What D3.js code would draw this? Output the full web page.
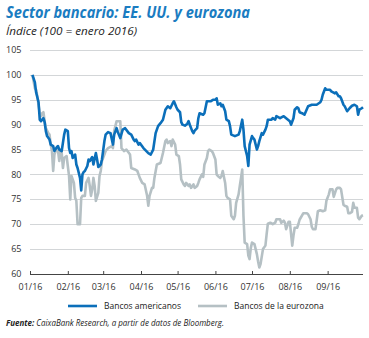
<!DOCTYPE html>
<html>
<head>
<meta charset="utf-8">
<script src="https://cdn.jsdelivr.net/npm/d3@7/dist/d3.min.js"></script>
<style>
  html, body { margin: 0; padding: 0; background: #fff; }
  svg { display: block; }
  text { font-family: "Open Sans", "Noto Sans", sans-serif; }
</style>
</head>
<body>
<svg id="chart" width="369" height="338"></svg>
<script>
// Bank sector indices, 100 = January 2016
const usDates = ["01-03","01-05","01-06","01-08","01-09","01-10","01-12","01-13","01-14","01-15","01-17","01-18","01-20","01-21","01-23","01-24","01-25","01-27","01-29","01-30",
  "02-01","02-02","02-03","02-04","02-05","02-07","02-08","02-09","02-11","02-12","02-13","02-14","02-15","02-17","02-18","02-19","02-21","02-22","02-24","02-25","02-26","02-28","02-29",
  "03-02","03-03","03-05","03-07","03-09","03-10","03-12","03-13","03-15","03-17","03-19","03-22","03-24","03-26","03-27","03-28","03-30","03-31",
  "04-03","04-07","04-09","04-11","04-13","04-15","04-17","04-19","04-21","04-23","04-25","04-27","04-28","04-30",
  "05-01","05-03","05-04","05-05","05-07","05-09","05-10","05-11","05-13","05-14","05-15","05-17","05-18","05-19","05-22","05-23","05-25","05-28","05-30",
  "06-01","06-02","06-03","06-05","06-06","06-07","06-09","06-10","06-12","06-13","06-14","06-17","06-20","06-21","06-23","06-24","06-25","06-27","06-28","06-29",
  "07-01","07-02","07-03","07-05","07-06","07-07","07-09","07-10","07-12","07-13","07-14","07-17","07-18","07-20","07-21","07-24","07-27","07-28","07-29",
  "08-01","08-02","08-04","08-05","08-07","08-08","08-09","08-11","08-13","08-16","08-19","08-23","08-26","08-27","08-28","08-30","08-31",
  "09-03","09-04","09-07","09-08","09-10","09-11","09-12","09-14","09-15","09-17","09-19","09-21","09-23","09-25","09-26","09-27","09-29","09-30"];
const usValues = [100,98.5,96.5,94.5,91,90.7,91.3,90.5,88.7,87.7,87,86,85.7,84.7,85.5,85.7,85,84.7,88,89,
  88.7,85.3,84.3,84.7,83.3,84,82,81.3,79.3,76.8,80,80.5,80.7,81.7,83,82.7,83.5,82,84.3,83,81.5,82,83,
  86.7,88,88.5,88.3,86,88,89.3,88.5,87.3,89,89.3,88.3,88,87,86.7,87,86,86.3,
  85.3,84.3,84,85,88.3,89.7,90.3,91,93,93.7,93.3,94.3,94.7,93.5,
  93,92.5,90.5,90,89.8,90.2,90.7,90,88.7,88.3,88.8,89.3,91.3,92.3,92,92.3,94.7,94.7,95,
  95,95.3,94,94.3,93.7,94,92.7,91,90.7,89.7,88,87.7,88,88.7,91,89,85.7,83.7,81.7,86,
  87.7,87.3,87,85,85.7,86.7,88.3,88,89,89.7,91,91,91.3,91,91.7,91.3,91.7,91.5,91.3,
  90.7,90,91.3,93,93.5,93.3,92.5,92.3,92,93.7,94,94,94.5,95,96,97.3,97,
  97,96.7,96.3,96.5,95.7,95.7,95.3,94,93.7,92.7,93.3,93.8,94,93.7,92,93,93.3,93.5];

const euDates = ["01-03","01-05","01-06","01-07","01-08","01-09","01-10","01-11","01-12","01-13","01-14","01-16","01-17","01-18","01-19","01-20","01-21","01-23","01-24","01-25","01-26","01-27","01-28","01-29","01-31",
  "02-01","02-02","02-03","02-04","02-05","02-06","02-07","02-08","02-09","02-11","02-12","02-13","02-15","02-16","02-18","02-19","02-20","02-21","02-22","02-23","02-24","02-26","02-27","02-28","02-29",
  "03-02","03-03","03-05","03-08","03-09","03-10","03-12","03-13","03-15","03-16","03-18","03-20","03-23","03-24","03-27","03-29","03-31",
  "04-02","04-04","04-06","04-07","04-08","04-10","04-11","04-12","04-14","04-17","04-18","04-19","04-21","04-22","04-23","04-25","04-26","04-27","04-29","04-30",
  "05-02","05-03","05-04","05-06","05-07","05-08","05-10","05-11","05-12","05-14","05-15","05-17","05-18","05-19","05-21","05-22","05-23","05-25","05-26","05-27","05-29","05-30",
  "06-01","06-02","06-03","06-05","06-06","06-07","06-09","06-10","06-11","06-13","06-14","06-16","06-17","06-18","06-20","06-21","06-22","06-23","06-24","06-25","06-27","06-28","06-29","06-30",
  "07-01","07-03","07-05","07-06","07-07","07-08","07-10","07-12","07-13","07-14","07-16","07-18","07-20","07-21","07-24","07-25","07-27","07-28","07-29","07-31",
  "08-01","08-03","08-04","08-05","08-07","08-08","08-09","08-12","08-15","08-16","08-18","08-19","08-20","08-22","08-23","08-24","08-26","08-28","08-30","08-31",
  "09-02","09-03","09-05","09-06","09-08","09-09","09-11","09-12","09-14","09-15","09-17","09-18","09-19","09-21","09-22","09-23","09-25","09-26","09-27","09-29","09-30"];
const euValues = [100,97.3,97,95.7,94,92.3,91.7,92.3,92.5,90.7,89.3,88.3,88,86,84.7,80.7,84,85.3,84.7,82.7,85,84.3,81.3,83.3,83.7,
  81.7,79.7,75,79.7,79,78.3,75.3,74.7,70,70,75.3,75.7,75.7,78.3,79.3,77.7,75.7,77,79.3,77.7,74.7,76.3,79.7,80.7,82.7,
  84,84.7,85.3,85.7,85.3,88.7,90.7,90.7,90.7,85.3,84.7,85,84,81.3,81,80.7,79.3,
  78.3,78,75.7,73.7,75.7,77.3,77.3,79.3,82,82.3,83.3,84.3,86.7,87,86.3,86.7,85.7,87,86,84,
  83.7,82,79,78,77.7,78.3,77.7,78,77.3,78,77.3,77.7,78.3,79,80,79.5,82,83.3,84.7,85,84.7,84.3,
  83,80,79.7,79.3,79.7,80.7,78.3,75.7,75.3,75,71.7,71,71.7,74.3,76,77.7,79.3,81,71.7,66.3,66,63.7,63,65.2,
  66.3,66,64,62.5,61.3,62,65,65.7,68,70.1,70.3,70,70.3,71,71,70.3,70.7,70.3,69,70.5,
  70.5,65.7,67.7,69.3,69.3,70,70.9,72.2,72.2,72,71,69.5,69,69,70.7,72.6,72.8,72.6,72.8,74.7,
  76,77,77,75.5,77,77.3,77.3,77,73.9,73.7,73.5,72.2,72.2,72.5,74.3,73.3,73.3,71.3,71,71.7,71.8];

const yTicks = [60, 65, 70, 75, 80, 85, 90, 95, 100, 105];
const monthTicks = ["01/16","02/16","03/16","04/16","05/16","06/16","07/16","08/16","09/16"];
const seriesNames = ["Bancos americanos", "Bancos de la eurozona"];
const seriesColors = ["#0b6fba", "#b5c0c4"];

const parse = d3.timeParse("%Y-%m-%d");
const toSeries = (dates, values) => dates.map((d, i) => ({ date: parse("2016-" + d), value: values[i] }));
const series = [toSeries(usDates, usValues), toSeries(euDates, euValues)];

const svg = d3.select("#chart");
const plotLeft = 30, plotRight = 363, plotTop = 50, plotBottom = 274;

const x = d3.scaleTime()
  .domain([parse("2016-01-01"), parse("2016-09-30")])
  .range([plotLeft, plotRight]);
const y = d3.scaleLinear().domain([60, 105]).range([plotBottom, plotTop]);

// Title block
svg.append("text")
  .attr("x", 6).attr("y", 18)
  .attr("font-size", 15.5).attr("font-weight", "bold").attr("font-style", "italic")
  .attr("fill", "#1a7cc1")
  .attr("textLength", 244).attr("lengthAdjust", "spacingAndGlyphs")
  .text("Sector bancario: EE. UU. y eurozona");
svg.append("text")
  .attr("x", 6).attr("y", 35)
  .attr("font-size", 11).attr("font-style", "italic")
  .attr("fill", "#222")
  .attr("textLength", 131).attr("lengthAdjust", "spacingAndGlyphs")
  .text("Índice (100 = enero 2016)");

// Horizontal grid
svg.append("g")
  .selectAll("line")
  .data(yTicks.filter(t => t > 60))
  .join("line")
  .attr("x1", plotLeft).attr("x2", plotRight)
  .attr("y1", d => Math.round(y(d)) + 0.5).attr("y2", d => Math.round(y(d)) + 0.5)
  .attr("stroke", "#d3d6d8").attr("stroke-width", 1);

// Y axis labels, right-aligned next to the grid
svg.append("g")
  .selectAll("text")
  .data(yTicks)
  .join("text")
  .attr("x", 21.5)
  .attr("y", d => y(d))
  .attr("dy", "0.34em")
  .attr("text-anchor", "end")
  .attr("font-size", 9).attr("fill", "#333")
  .text(d => d);

// X axis with month ticks pointing up
const monthDates = monthTicks.map(m => d3.timeParse("%m/%y")(m));
const xAxis = d3.axisBottom(x).tickValues(monthDates).tickSize(0)
  .tickFormat((d, i) => monthTicks[i]).tickPadding(10);
const gx = svg.append("g").attr("transform", `translate(0,${plotBottom})`).call(xAxis);
gx.select(".domain").attr("stroke", "#444").attr("d", `M${plotLeft},0.5H${plotRight}`);
gx.selectAll(".tick").append("line")
  .attr("y1", 0.5).attr("y2", -3).attr("stroke", "#444");
gx.selectAll("text").attr("font-size", 9).attr("fill", "#333")
  .style("font-family", "'Open Sans', sans-serif");

// Lines: euro area underneath, US on top
const line = d3.line().x(d => x(d.date)).y(d => y(d.value)).curve(d3.curveLinear);
[1, 0].forEach(i => {
  svg.append("path")
    .datum(series[i])
    .attr("d", line)
    .attr("fill", "none")
    .attr("stroke", seriesColors[i])
    .attr("stroke-width", 2.6)
    .attr("stroke-linejoin", "round");
});

// Legend
const legendX = [68, 198];
const lg = svg.append("g").attr("transform", "translate(0,306)");
seriesNames.forEach((name, i) => {
  lg.append("line")
    .attr("x1", legendX[i]).attr("x2", legendX[i] + 29)
    .attr("y1", 0).attr("y2", 0)
    .attr("stroke", seriesColors[i]).attr("stroke-width", 2.6);
  lg.append("text")
    .attr("x", legendX[i] + 36).attr("y", 3)
    .attr("font-size", 8.5).attr("fill", "#222")
    .text(name);
});

// Source note
const src = svg.append("text").attr("x", 6).attr("y", 326)
  .attr("font-size", 8.5).attr("font-style", "italic").attr("fill", "#222")
  .attr("textLength", 218).attr("lengthAdjust", "spacingAndGlyphs");
src.append("tspan").attr("font-weight", "bold").text("Fuente:");
src.append("tspan").text(" CaixaBank Research, a partir de datos de Bloomberg.");
</script>
</body>
</html>
